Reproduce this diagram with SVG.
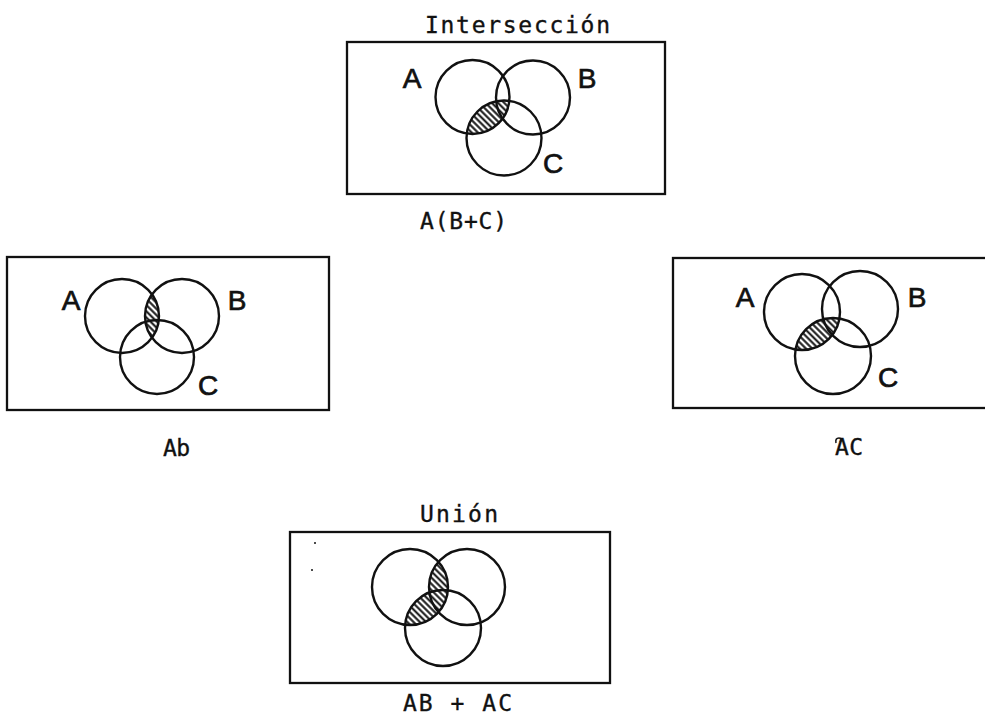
<svg xmlns="http://www.w3.org/2000/svg" width="985" height="717" viewBox="0 0 985 717">
  <style>
    .frame { fill: none; stroke: #111; stroke-width: 2.3; }
    .ring { fill: none; stroke: #111; stroke-width: 2.4; }
    .set { font-family: "Liberation Sans", Arial, sans-serif; font-size: 28px; fill: #111; text-anchor: middle; stroke: #111; stroke-width: 0.7; }
    .cap { font-family: "DejaVu Sans Mono", "Liberation Mono", monospace; font-size: 23px; fill: #111; stroke: #111; stroke-width: 0.35; }
    .hatch { fill: url(#hatch); }
  </style>
  <defs>
    <!-- diagonal hatching used for the shaded regions -->
    <pattern id="hatch" patternUnits="userSpaceOnUse" width="8" height="4.4" patternTransform="rotate(45)">
      <rect width="8" height="4.4" fill="#fff"/>
      <line x1="0" y1="2.2" x2="8" y2="2.2" stroke="#111" stroke-width="2"/>
    </pattern>
    <!-- clip circles for the shaded lenses -->
    <clipPath id="topC"><circle cx="504" cy="138" r="37.5"/></clipPath>
    <clipPath id="leftB"><circle cx="182" cy="316" r="37"/></clipPath>
    <clipPath id="rightC"><circle cx="833" cy="356" r="38"/></clipPath>
    <clipPath id="botB"><circle cx="467" cy="587" r="38"/></clipPath>
    <clipPath id="botC"><circle cx="443" cy="628" r="38"/></clipPath>
  </defs>

  <!-- Intersección: A(B+C) -->
  <g id="interseccion">
    <text class="cap" x="425" y="33" textLength="185" lengthAdjust="spacing">Intersección</text>
    <rect class="frame" x="347" y="42" width="318" height="152"/>
    <g clip-path="url(#topC)"><circle class="hatch" cx="472.5" cy="97" r="37"/></g>
    <circle class="ring" cx="472.5" cy="97" r="37"/>
    <circle class="ring" cx="533" cy="97.5" r="37"/>
    <circle class="ring" cx="504" cy="138" r="37.5"/>
    <text class="set" x="412" y="88">A</text>
    <text class="set" x="587" y="88">B</text>
    <text class="set" x="553" y="173">C</text>
    <text class="cap" x="420" y="229" textLength="87" lengthAdjust="spacing">A(B+C)</text>
  </g>

  <!-- Ab -->
  <g id="ab">
    <rect class="frame" x="7" y="257" width="322" height="153"/>
    <g clip-path="url(#leftB)"><circle class="hatch" cx="122" cy="316" r="37"/></g>
    <circle class="ring" cx="122" cy="316" r="37"/>
    <circle class="ring" cx="182" cy="316" r="37"/>
    <circle class="ring" cx="157" cy="357" r="37"/>
    <text class="set" x="71" y="310">A</text>
    <text class="set" x="237" y="310">B</text>
    <text class="set" x="208" y="395">C</text>
    <text class="cap" x="163" y="456" textLength="27" lengthAdjust="spacing">Ab</text>
  </g>

  <!-- AC -->
  <g id="ac">
    <rect class="frame" x="673" y="258" width="330" height="150"/>
    <g clip-path="url(#rightC)"><circle class="hatch" cx="802" cy="312" r="38"/></g>
    <circle class="ring" cx="802" cy="312" r="38"/>
    <circle class="ring" cx="860" cy="309" r="38"/>
    <circle class="ring" cx="833" cy="356" r="38"/>
    <text class="set" x="745" y="307">A</text>
    <text class="set" x="917" y="307">B</text>
    <text class="set" x="888" y="387">C</text>
    <text class="cap" x="835" y="455" textLength="28" lengthAdjust="spacing">AC</text>
    <path d="M836 443 q-1 -5 3 -5 q4 0 1 4" fill="none" stroke="#111" stroke-width="1.5"/>
  </g>

  <!-- Unión: AB + AC -->
  <g id="union">
    <text class="cap" x="420" y="522" textLength="78" lengthAdjust="spacing">Unión</text>
    <rect class="frame" x="290" y="532" width="320" height="151"/>
    <g clip-path="url(#botB)"><circle class="hatch" cx="410" cy="587" r="38"/></g>
    <g clip-path="url(#botC)"><circle class="hatch" cx="410" cy="587" r="38"/></g>
    <circle class="ring" cx="410" cy="587" r="38"/>
    <circle class="ring" cx="467" cy="587" r="38"/>
    <circle class="ring" cx="443" cy="628" r="38"/>
    <text class="cap" x="403" y="711" textLength="109" lengthAdjust="spacing">AB + AC</text>
  </g>

  <!-- small specks on the sheet -->
  <g id="specks" fill="#111">
    <circle cx="315" cy="543" r="1"/>
    <circle cx="312" cy="570" r="1"/>
  </g>
</svg>
